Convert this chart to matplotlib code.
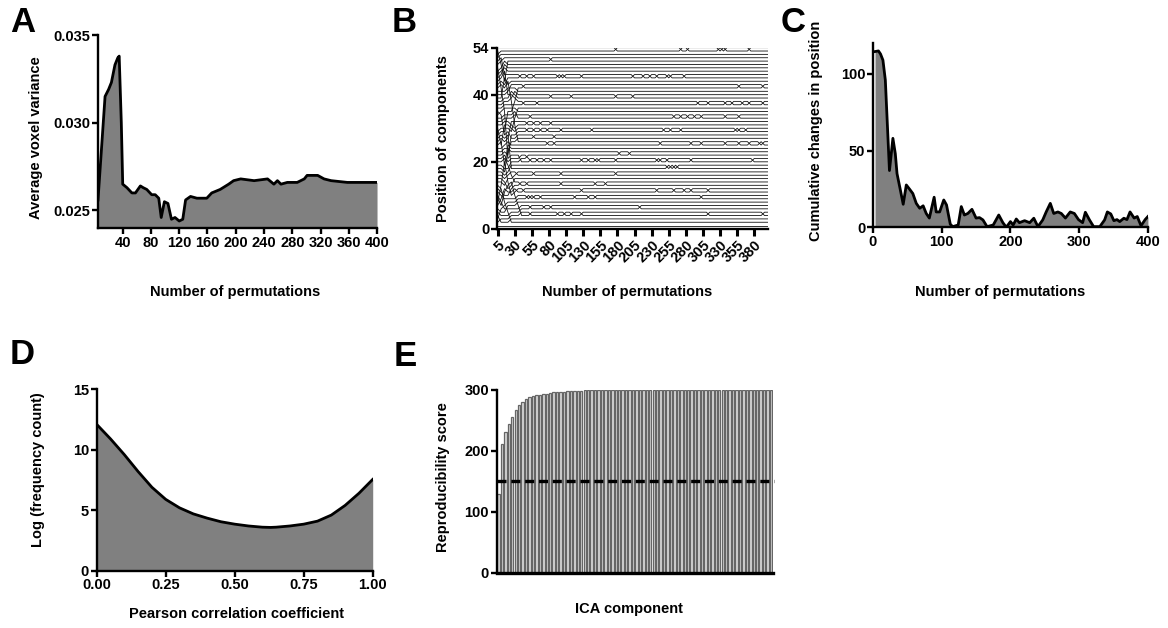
import numpy as np
import matplotlib
matplotlib.use("Agg")
import matplotlib.pyplot as plt

plt.rcParams['font.family'] = ['Liberation Sans', 'DejaVu Sans']
plt.rcParams['font.weight'] = 'bold'
plt.rcParams['axes.labelweight'] = 'bold'
plt.rcParams['font.size'] = 10.5

# --- A: average voxel variance vs permutations
perm_a = [5, 15, 20, 24, 29, 33, 35, 38, 40, 46, 53, 58, 65, 69, 74, 81, 86, 91, 94.5, 99,
          104, 109, 114, 120, 125, 129, 136, 145, 159, 166, 178, 190, 197, 207, 226, 245,
          254, 259, 264, 273, 287, 297, 301, 316, 325, 335, 358, 400]
var_a = [0.0256, 0.0315, 0.0319, 0.0323, 0.0333, 0.0337, 0.0338, 0.0300, 0.0265, 0.0263,
         0.0260, 0.0260, 0.0264, 0.0263, 0.0262, 0.0259, 0.0259, 0.0257, 0.0246, 0.0255,
         0.0254, 0.0245, 0.0246, 0.0244, 0.0245, 0.0256, 0.0258, 0.0257, 0.0257, 0.0260,
         0.0262, 0.0265, 0.0267, 0.0268, 0.0267, 0.0268, 0.0265, 0.0267, 0.0265, 0.0266,
         0.0266, 0.0268, 0.0270, 0.0270, 0.0268, 0.0267, 0.0266, 0.0266]

# --- B: ranking of 54 components over permutations (5, 10, ..., 400)
n_comp = 54
steps_b = np.arange(5, 405, 5)
# (permutation, from position, to position): large early reorderings
early_moves = [
    (10, 53, 49), (10, 48, 42), (10, 8, 13), (10, 3, 7), (10, 35, 40), (10, 40, 34),
    (10, 30, 25), (10, 6, 9),
    (15, 49, 45), (15, 42, 35), (15, 13, 19), (15, 7, 11), (15, 40, 45), (15, 51, 46),
    (15, 25, 30), (15, 12, 8), (15, 34, 28), (15, 25, 19), (15, 9, 12),
    (20, 45, 42), (20, 35, 28), (20, 19, 24), (20, 11, 14), (20, 45, 50), (20, 46, 40),
    (20, 30, 35), (20, 8, 5), (20, 28, 22), (20, 19, 14), (20, 18, 23), (20, 12, 15),
    (25, 28, 22), (25, 24, 27), (25, 40, 35), (25, 35, 39), (25, 5, 2), (25, 22, 17),
    (25, 14, 10), (25, 23, 29), (25, 44, 38), (25, 20, 16), (25, 27, 32),
    (30, 35, 32), (30, 39, 41), (30, 29, 33), (30, 38, 31), (30, 16, 12), (30, 32, 38),
    (30, 15, 10),
    (35, 33, 36), (35, 31, 26), (35, 38, 43), (35, 10, 7),
    (40, 7, 4),
]
# (permutation, position): neighbours at position and position+1 swap
swaps = [
    (180, 53), (275, 53), (285, 53), (330, 53), (335, 53), (340, 53), (375, 53),
    (85, 50), (15, 48),
    (40, 45), (50, 45), (60, 45), (95, 45), (100, 45), (105, 45), (130, 45), (205, 45),
    (220, 45), (230, 45), (240, 45), (255, 45), (260, 45), (280, 45),
    (25, 42), (35, 42), (45, 42), (360, 42), (395, 42),
    (85, 39), (115, 39), (180, 39), (205, 39),
    (45, 37), (65, 37), (300, 37), (315, 37), (340, 37), (350, 37), (365, 37), (375, 37), (395, 37),
    (35, 33), (55, 33), (265, 33), (275, 33), (285, 33), (295, 33), (305, 33), (340, 33), (360, 33),
    (50, 31), (60, 31), (70, 31), (85, 31),
    (50, 29), (60, 29), (70, 29), (80, 29), (100, 29), (145, 29), (250, 29), (260, 29),
    (275, 29), (355, 29), (360, 29), (370, 29),
    (60, 27), (90, 27),
    (80, 25), (90, 25), (245, 25), (290, 25), (305, 25), (340, 25), (360, 25), (375, 25),
    (390, 25), (395, 25),
    (185, 22), (200, 22),
    (40, 21), (50, 21),
    (40, 20), (55, 20), (65, 20), (75, 20), (85, 20), (130, 20), (140, 20), (150, 20),
    (155, 20), (180, 20), (240, 20), (245, 20), (255, 20), (290, 20), (380, 20),
    (255, 18), (260, 18), (265, 18), (270, 18),
    (35, 16), (60, 16), (100, 16), (180, 16),
    (20, 13), (30, 13), (40, 13), (50, 13), (100, 13), (150, 13), (165, 13),
    (25, 11), (35, 11), (45, 11), (130, 11), (240, 11), (265, 11), (280, 11), (290, 11), (315, 11),
    (50, 9), (55, 9), (60, 9), (70, 9), (120, 9), (140, 9), (150, 9), (305, 9),
    (15, 6), (20, 6), (55, 6), (75, 6), (85, 6), (215, 6),
    (55, 4), (95, 4), (105, 4), (115, 4), (130, 4), (315, 4), (395, 4),
    (10, 2),
]
b_ticks = [5, 30, 55, 80, 105, 130, 155, 180, 205, 230, 255, 280, 305, 330, 355, 380]

# --- C: cumulative changes in position
perm_c = [3, 8, 11, 14.5, 18, 24, 29, 32.5, 35, 40, 44, 48.5, 53, 58, 63, 68, 73, 77.5, 82,
          89, 92, 97, 103, 107, 112.5, 116, 124, 128.5, 133, 138, 144, 150, 155, 160, 166,
          175, 183, 189, 194, 200, 204, 208.5, 213, 220.6, 228, 234, 240, 247, 252, 258,
          263, 269, 274, 280, 287, 293, 299, 305, 309, 315, 321, 330, 337, 341, 346, 350.5,
          355, 359, 365, 369.5, 374, 380, 384.5, 390, 396, 400]
changes_c = [114.6, 115, 113, 109, 96, 37, 58, 48, 35, 24, 15, 27.6, 25, 22, 15.6, 12.4, 14,
             9, 6, 19.6, 10, 10, 17.8, 14.6, 2, 0.4, 1.5, 13.5, 8, 9, 11.7, 6, 6.3, 4.8, 0.4,
             1.5, 8, 3, 0, 3.7, 1.5, 5.4, 3, 4.3, 3, 5.9, 0.4, 4.8, 10, 15.6, 9, 10, 9, 6,
             10, 9, 5, 3, 9.8, 4.8, 0.4, 0.4, 4.8, 10, 8.7, 4.3, 5, 3.7, 5.9, 5, 10, 6, 7, 1,
             5, 7]

# --- D: distribution of correlation coefficients
r_d = [0.0, 0.05, 0.1, 0.15, 0.2, 0.25, 0.3, 0.35, 0.4, 0.45, 0.5, 0.55, 0.6, 0.63, 0.65,
       0.7, 0.75, 0.8, 0.85, 0.9, 0.95, 1.0]
logcount_d = [12.1, 10.9, 9.6, 8.2, 6.9, 5.9, 5.2, 4.7, 4.35, 4.05, 3.85, 3.7, 3.6, 3.58,
              3.6, 3.7, 3.85, 4.1, 4.6, 5.4, 6.4, 7.55]

# --- E: reproducibility score per ICA component
score_e = [130, 212, 231, 244, 256, 268, 275, 281, 286, 289,
           290, 291, 292, 293, 294, 295, 296, 296, 297, 297,
           298, 298, 299, 299, 299, 300, 300, 300, 300, 300,
           300, 300, 300, 300, 300, 300, 300, 300, 300, 300,
           300, 300, 300, 300, 300, 300, 300, 300, 300, 300,
           300, 300, 300, 300, 300, 300, 300, 300, 300, 300,
           300, 300, 300, 300, 300, 300, 300, 300, 300, 300,
           300, 300, 300, 300, 300, 300, 300, 300, 300, 300]
threshold_e = 150

FILL = '#808080'


def style_axes(ax):
    for s in ['top', 'right']:
        ax.spines[s].set_visible(False)
    for s in ['left', 'bottom']:
        ax.spines[s].set_linewidth(1.7)
    ax.tick_params(width=1.7, length=4, labelsize=10.5, pad=1.5)


fig = plt.figure(figsize=(11.68, 6.28), dpi=100)

# A
ax = fig.add_axes([0.0839, 0.6369, 0.2389, 0.3073])
ax.fill_between(perm_a, 0.024, var_a, color=FILL, lw=0)
ax.plot(perm_a, var_a, color='black', lw=2)
ax.set_xlim(5, 400)
ax.set_ylim(0.024, 0.035)
ax.set_xticks(range(40, 401, 40))
ax.set_yticks([0.025, 0.030, 0.035])
ax.set_yticklabels(['0.025', '0.030', '0.035'])
style_axes(ax)
ax.set_xlabel('Number of permutations')
ax.set_ylabel('Average voxel variance')
ax.xaxis.set_label_coords(0.49, -0.295)
ax.yaxis.set_label_coords(-0.197, 0.466)

# B
order = list(range(n_comp))
pos = np.zeros((n_comp, len(steps_b)))
for i, s in enumerate(steps_b):
    for (x, a, b) in early_moves:
        if x == s:
            c = order.pop(a - 1)
            order.insert(b - 1, c)
    for (x, p) in swaps:
        if x == s:
            order[p - 1], order[p] = order[p], order[p - 1]
    for p, c in enumerate(order):
        pos[c, i] = p + 1

ax = fig.add_axes([0.4255, 0.6354, 0.2320, 0.2887])
for c in range(n_comp):
    ax.plot(steps_b, pos[c], color='#111111', lw=0.6)
ax.set_xlim(4, 400)
ax.set_ylim(0, 54)
ax.set_yticks([0, 20, 40, 54])
ax.set_xticks(b_ticks)
ax.set_xticklabels([str(t) for t in b_ticks], rotation=45, ha='right',
                   rotation_mode='anchor')
style_axes(ax)
ax.tick_params(axis='x', length=5, width=2.2)
ax.set_xlabel('Number of permutations')
ax.set_ylabel('Position of components')
ax.xaxis.set_label_coords(0.48, -0.309)
ax.yaxis.set_label_coords(-0.173, 0.496)

# C
ax = fig.add_axes([0.7474, 0.6381, 0.2354, 0.2930])
ax.fill_between(perm_c, 0, changes_c, color=FILL, lw=0)
ax.plot(perm_c, changes_c, color='black', lw=2)
ax.set_xlim(0, 400)
ax.set_ylim(0, 120)
ax.set_xticks([0, 100, 200, 300, 400])
ax.set_yticks([0, 50, 100])
style_axes(ax)
ax.set_xlabel('Number of permutations')
ax.set_ylabel('Cumulative changes in position')
ax.xaxis.set_label_coords(0.462, -0.314)
ax.yaxis.set_label_coords(-0.182, 0.523)

# D
ax = fig.add_axes([0.0828, 0.0912, 0.2363, 0.2889])
ax.fill_between(r_d, 0, logcount_d, color=FILL, lw=0)
ax.plot(r_d, logcount_d, color='black', lw=2)
ax.set_xlim(0, 1)
ax.set_ylim(0, 15)
ax.set_xticks([0, 0.25, 0.5, 0.75, 1.0])
ax.set_xticklabels(['0.00', '0.25', '0.50', '0.75', '1.00'])
ax.set_yticks([0, 5, 10, 15])
style_axes(ax)
ax.set_xlabel('Pearson correlation coefficient')
ax.set_ylabel('Log (frequency count)')
ax.xaxis.set_label_coords(0.507, -0.2)
ax.yaxis.set_label_coords(-0.187, 0.555)

# E
comp_e = np.arange(1, len(score_e) + 1)
ax = fig.add_axes([0.4253, 0.0876, 0.2363, 0.2914])
ax.bar(comp_e, score_e, width=0.7, color='#d9d9d9', edgecolor='#666666', lw=0.9)
ax.plot([0.5, len(score_e) + 1], [threshold_e, threshold_e], color='black', lw=2.4,
        dashes=(2.7, 1.45), clip_on=False)
ax.set_xlim(0.5, len(score_e) + 0.5)
ax.set_ylim(0, 300)
ax.set_yticks([0, 100, 200, 300])
ax.set_xticks([])
style_axes(ax)
ax.spines['bottom'].set_linewidth(2.4)
ax.set_xlabel('ICA component')
ax.set_ylabel('Reproducibility score')
ax.xaxis.set_label_coords(0.478, -0.158)
ax.yaxis.set_label_coords(-0.169, 0.522)

# panel letters
for letter, (px, py) in zip('ABCDE', [(10, 6), (392, 6), (781, 6), (10, 338), (394, 340)]):
    fig.text(px / 1168, 1 - py / 628, letter, fontsize=25, fontweight='bold',
             ha='left', va='top')

fig.savefig('out.png', dpi=100)
